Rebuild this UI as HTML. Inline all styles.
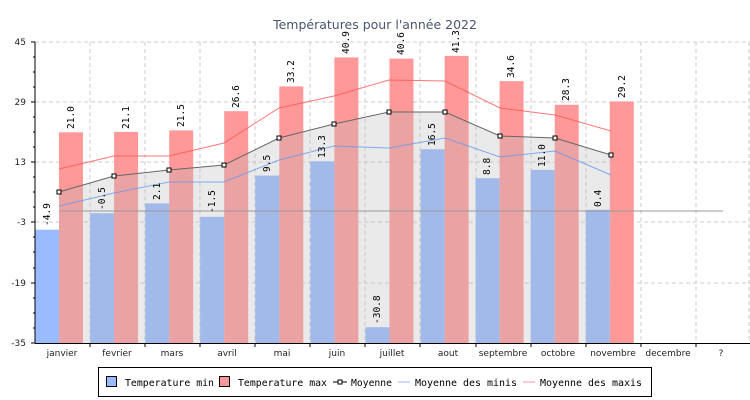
<!DOCTYPE html>
<html><head><meta charset="utf-8"><style>
body{margin:0;background:#fff;}
svg{display:block;font-family:"DejaVu Sans","Liberation Sans",sans-serif;}
.t{font-size:9.5px;font-family:"DejaVu Sans Mono","Liberation Mono",monospace;fill:#000;}
.ax{font-size:9px;fill:#222;}
.lg{font-size:10px;font-family:"DejaVu Sans Mono","Liberation Mono",monospace;fill:#000;}
</style></head><body>
<svg width="750" height="400" viewBox="0 0 750 400">
<rect width="750" height="400" fill="#fff"/>
<text x="375" y="29" text-anchor="middle" font-size="12.5" fill="#4a5570">Températures pour l'année 2022</text>
<g stroke="#cccccc" stroke-dasharray="4,3" stroke-width="1">
<line x1="35" y1="42" x2="750" y2="42"/><line x1="35" y1="102" x2="750" y2="102"/>
<line x1="35" y1="162" x2="750" y2="162"/><line x1="35" y1="222" x2="750" y2="222"/>
<line x1="35" y1="283" x2="750" y2="283"/>
<line x1="90" y1="42" x2="90" y2="343"/><line x1="145" y1="42" x2="145" y2="343"/>
<line x1="200" y1="42" x2="200" y2="343"/><line x1="255" y1="42" x2="255" y2="343"/>
<line x1="310" y1="42" x2="310" y2="343"/><line x1="365" y1="42" x2="365" y2="343"/>
<line x1="420" y1="42" x2="420" y2="343"/><line x1="476" y1="42" x2="476" y2="343"/>
<line x1="531" y1="42" x2="531" y2="343"/><line x1="586" y1="42" x2="586" y2="343"/>
<line x1="641" y1="42" x2="641" y2="343"/><line x1="696" y1="42" x2="696" y2="343"/>
<line x1="749" y1="42" x2="749" y2="343"/>
</g>
<g fill="#99bbff">
<rect x="35" y="229.7" width="24" height="113.3"/>
<rect x="90.1" y="213.2" width="24" height="129.8"/>
<rect x="145.2" y="203.4" width="24" height="139.6"/>
<rect x="200.2" y="216.8" width="24" height="126.2"/>
<rect x="255.3" y="175.6" width="24" height="167.4"/>
<rect x="310.4" y="161.3" width="24" height="181.7"/>
<rect x="365.5" y="327.2" width="24" height="15.8"/>
<rect x="420.6" y="149.2" width="24" height="193.8"/>
<rect x="475.6" y="178.2" width="24" height="164.8"/>
<rect x="530.7" y="169.9" width="24" height="173.1"/>
<rect x="585.8" y="209.8" width="24" height="133.2"/>
</g>
<g fill="#ff9999">
<rect x="59" y="132.3" width="24" height="210.7"/>
<rect x="114.1" y="131.9" width="24" height="211.1"/>
<rect x="169.2" y="130.4" width="24" height="212.6"/>
<rect x="224.2" y="111.2" width="24" height="231.8"/>
<rect x="279.3" y="86.4" width="24" height="256.6"/>
<rect x="334.4" y="57.4" width="24" height="285.6"/>
<rect x="389.5" y="58.6" width="24" height="284.4"/>
<rect x="444.6" y="55.9" width="24" height="287.1"/>
<rect x="499.6" y="81.1" width="24" height="261.9"/>
<rect x="554.7" y="104.8" width="24" height="238.2"/>
<rect x="609.8" y="101.4" width="24" height="241.6"/>
</g>
<polygon points="59,192 114,176 169,170 224,165 279,138 334,124 389,112 445,112 500,136 555,138 611,155 611,343 59,343" fill="#bababa" fill-opacity="0.3"/>
<line x1="59" y1="211" x2="723" y2="211" stroke="#999" stroke-width="1"/>
<polyline points="59,169 114,156 169,156 224,143 279,108 334,96 389,80 445,81 500,108 555,115 611,131" fill="none" stroke="#ff5555" stroke-width="1" stroke-opacity="0.8"/>
<polyline points="59,206 114,193 169,182 224,182 279,160 334,146 389,148 445,138 500,157 555,151 611,175" fill="none" stroke="#6699ee" stroke-width="1" stroke-opacity="0.8"/>
<polyline points="59,192 114,176 169,170 224,165 279,138 334,124 389,112 445,112 500,136 555,138 611,155" fill="none" stroke="#666" stroke-width="1"/>
<g fill="#fff" stroke="#000" stroke-width="1">
<rect x="57" y="190" width="4" height="4"/><rect x="112" y="174" width="4" height="4"/>
<rect x="167" y="168" width="4" height="4"/><rect x="222" y="163" width="4" height="4"/>
<rect x="277" y="136" width="4" height="4"/><rect x="332" y="122" width="4" height="4"/>
<rect x="387" y="110" width="4" height="4"/><rect x="443" y="110" width="4" height="4"/>
<rect x="498" y="134" width="4" height="4"/><rect x="553" y="136" width="4" height="4"/>
<rect x="609" y="153" width="4" height="4"/>
</g>
<g class="t">
<text transform="translate(50,226) rotate(-90)">-4.9</text>
<text transform="translate(105,210) rotate(-90)">-0.5</text>
<text transform="translate(160,200) rotate(-90)">2.1</text>
<text transform="translate(215,213) rotate(-90)">-1.5</text>
<text transform="translate(270,172) rotate(-90)">9.5</text>
<text transform="translate(325,158) rotate(-90)">13.3</text>
<text transform="translate(380,324) rotate(-90)">-30.8</text>
<text transform="translate(435,146) rotate(-90)">16.5</text>
<text transform="translate(490,175) rotate(-90)">8.8</text>
<text transform="translate(545,167) rotate(-90)">11.0</text>
<text transform="translate(601,207) rotate(-90)">0.4</text>
<text transform="translate(74,129) rotate(-90)">21.0</text>
<text transform="translate(129,129) rotate(-90)">21.1</text>
<text transform="translate(184,127) rotate(-90)">21.5</text>
<text transform="translate(239,108) rotate(-90)">26.6</text>
<text transform="translate(294,83) rotate(-90)">33.2</text>
<text transform="translate(349,54) rotate(-90)">40.9</text>
<text transform="translate(404,55) rotate(-90)">40.6</text>
<text transform="translate(459,53) rotate(-90)">41.3</text>
<text transform="translate(514,78) rotate(-90)">34.6</text>
<text transform="translate(569,101) rotate(-90)">28.3</text>
<text transform="translate(625,98) rotate(-90)">29.2</text>
</g>
<g stroke="#000" stroke-width="1">
<line x1="35" y1="42" x2="35" y2="343.5"/>
<line x1="35" y1="343.5" x2="750" y2="343.5"/>
<line x1="31" y1="42" x2="35" y2="42"/><line x1="31" y1="102" x2="35" y2="102"/>
<line x1="31" y1="162" x2="35" y2="162"/><line x1="31" y1="222" x2="35" y2="222"/>
<line x1="31" y1="283" x2="35" y2="283"/><line x1="31" y1="343" x2="35" y2="343"/>
<line x1="33" y1="57" x2="35" y2="57"/><line x1="33" y1="72" x2="35" y2="72"/><line x1="33" y1="87" x2="35" y2="87"/>
<line x1="33" y1="117" x2="35" y2="117"/><line x1="33" y1="132" x2="35" y2="132"/><line x1="33" y1="147" x2="35" y2="147"/>
<line x1="33" y1="177" x2="35" y2="177"/><line x1="33" y1="192" x2="35" y2="192"/><line x1="33" y1="207" x2="35" y2="207"/>
<line x1="33" y1="237" x2="35" y2="237"/><line x1="33" y1="252" x2="35" y2="252"/><line x1="33" y1="268" x2="35" y2="268"/>
<line x1="33" y1="298" x2="35" y2="298"/><line x1="33" y1="313" x2="35" y2="313"/><line x1="33" y1="328" x2="35" y2="328"/>
<line x1="90" y1="343" x2="90" y2="347"/><line x1="145" y1="343" x2="145" y2="347"/><line x1="200" y1="343" x2="200" y2="347"/>
<line x1="255" y1="343" x2="255" y2="347"/><line x1="310" y1="343" x2="310" y2="347"/><line x1="365" y1="343" x2="365" y2="347"/>
<line x1="420" y1="343" x2="420" y2="347"/><line x1="476" y1="343" x2="476" y2="347"/><line x1="531" y1="343" x2="531" y2="347"/>
<line x1="586" y1="343" x2="586" y2="347"/><line x1="641" y1="343" x2="641" y2="347"/><line x1="696" y1="343" x2="696" y2="347"/>
</g>
<g class="ax" text-anchor="end">
<text x="26" y="45">45</text><text x="26" y="105">29</text><text x="26" y="165">13</text>
<text x="26" y="225">-3</text><text x="26" y="286">-19</text><text x="26" y="346">-35</text>
</g>
<g class="ax" text-anchor="middle">
<text x="62" y="356">janvier</text><text x="117" y="356">fevrier</text><text x="172" y="356">mars</text>
<text x="227" y="356">avril</text><text x="282" y="356">mai</text><text x="337" y="356">juin</text>
<text x="392" y="356">juillet</text><text x="448" y="356">aout</text><text x="503" y="356">septembre</text>
<text x="558" y="356">octobre</text><text x="613" y="356">novembre</text><text x="668" y="356">decembre</text>
<text x="721" y="356">?</text>
</g>
<rect x="98.5" y="367.5" width="553" height="29" fill="#fff" stroke="#000"/>
<rect x="106.5" y="376.5" width="10" height="10" fill="#99bbff" stroke="#000"/>
<text class="lg" x="125" y="386" textLength="89" lengthAdjust="spacingAndGlyphs">Temperature min</text>
<rect x="219.5" y="376.5" width="10" height="10" fill="#ff9999" stroke="#000"/>
<text class="lg" x="238" y="386" textLength="89" lengthAdjust="spacingAndGlyphs">Temperature max</text>
<line x1="333" y1="382" x2="347" y2="382" stroke="#000"/>
<rect x="338" y="380" width="4" height="4" fill="#fff" stroke="#000"/>
<text class="lg" x="351" y="386" textLength="41" lengthAdjust="spacingAndGlyphs">Moyenne</text>
<line x1="398" y1="382" x2="410" y2="382" stroke="#99bbee"/>
<text class="lg" x="415" y="386" textLength="102" lengthAdjust="spacingAndGlyphs">Moyenne des minis</text>
<line x1="523" y1="382" x2="535" y2="382" stroke="#ee9999"/>
<text class="lg" x="540" y="386" textLength="102" lengthAdjust="spacingAndGlyphs">Moyenne des maxis</text>
</svg>
</body></html>
